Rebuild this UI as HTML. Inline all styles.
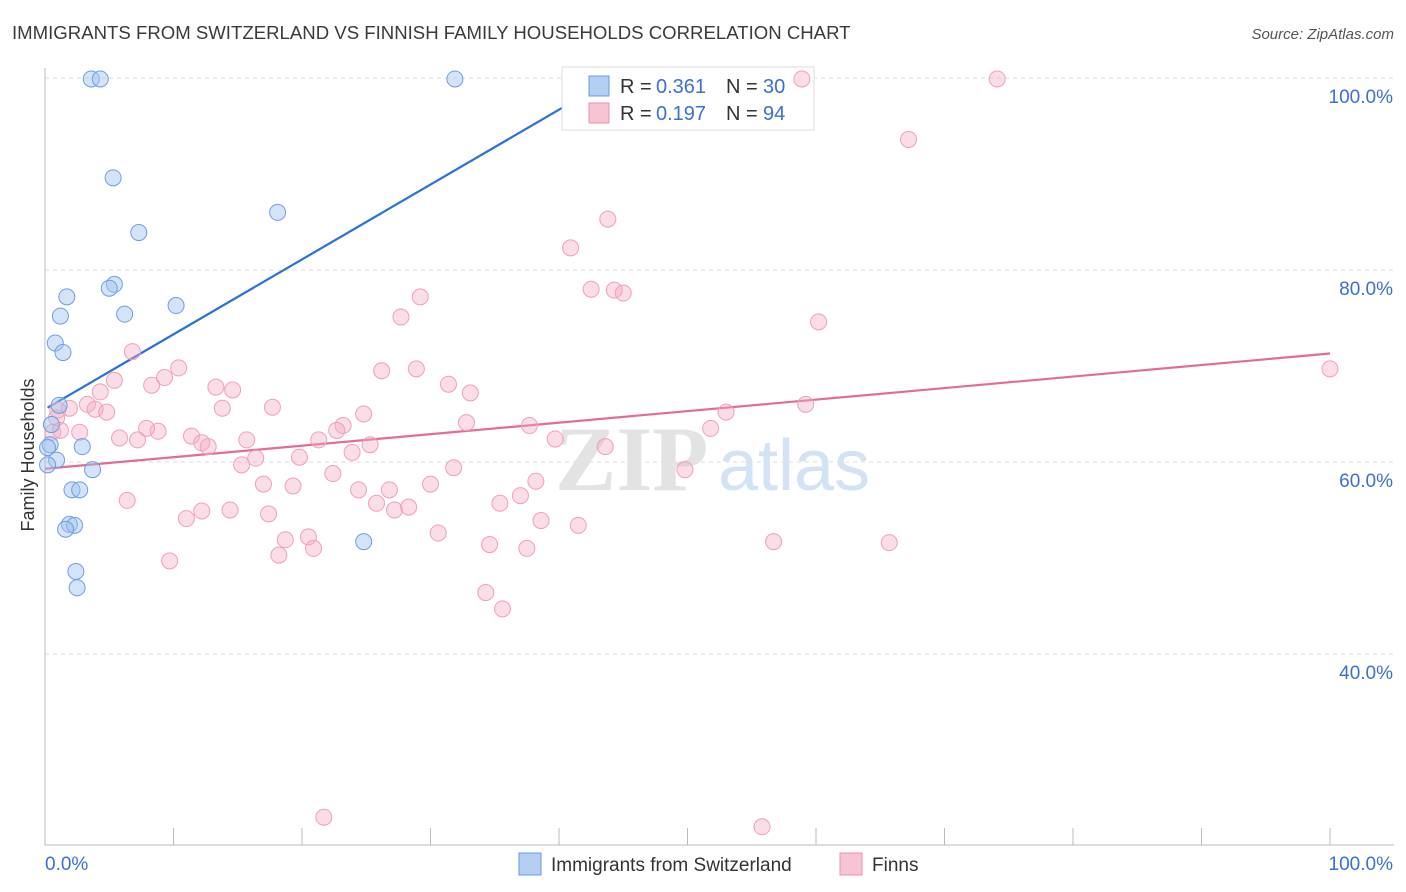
<!DOCTYPE html>
<html><head><meta charset="utf-8"><style>
body{margin:0;background:#fff;font-family:"Liberation Sans",sans-serif;}
svg{display:block}
</style></head><body>
<svg id="chart" width="1406" height="892" viewBox="0 0 1406 892">
<text x="12" y="39" font-size="18.6" fill="#3a3a3a">IMMIGRANTS FROM SWITZERLAND VS FINNISH FAMILY HOUSEHOLDS CORRELATION CHART</text>
<text x="1394" y="39" font-size="15" fill="#555" font-style="italic" text-anchor="end">Source: ZipAtlas.com</text>
<g id="grid"></g>
<g>
<text x="555" y="490" font-size="92" fill="#e3e3e3" font-family="Liberation Serif,serif" font-weight="bold">ZIP</text>
<text x="718" y="490" font-size="72" fill="#d3e2f4">atlas</text>
</g>
<g id="axes"></g>
<g id="lines"></g>
<g>
<rect x="562" y="67" width="252" height="63" fill="#fff" stroke="#ddd"/>
<rect x="589" y="76" width="20" height="20" fill="#b3cff2" stroke="#6a9ae0"/>
<rect x="589" y="103" width="20" height="20" fill="#f7c4d4" stroke="#e890ae"/>
<g font-size="20" fill="#333">
<text x="620" y="93">R =</text><text x="656" y="93" fill="#3b6fd4">0.361</text><text x="726" y="93">N =</text><text x="763" y="93" fill="#3b6fd4">30</text></g>
<g font-size="20" fill="#333">
<text x="620" y="120">R =</text><text x="656" y="120" fill="#3b6fd4">0.197</text><text x="726" y="120">N =</text><text x="763" y="120" fill="#3b6fd4">94</text></g>
</g>
<g id="pinkPts"></g>
<g id="bluePts"></g>
<text x="34" y="455" font-size="18" fill="#333" transform="rotate(-90 34 455)" text-anchor="middle">Family Households</text>
<g>
<rect x="519" y="853" width="22" height="22" fill="#b3cff2" stroke="#6a9ae0"/>
<text x="551" y="871" font-size="19" fill="#333">Immigrants from Switzerland</text>
<rect x="840" y="853" width="22" height="22" fill="#f7c4d4" stroke="#e890ae"/>
<text x="872" y="871" font-size="19" fill="#333">Finns</text>
</g>
</svg>
<script>
const blueX=[3.6,4.3,31.9,5.3,18.1,7.3,5.4,5.0,1.7,10.2,1.2,6.2,0.8,1.4,1.1,0.5,0.4,0.2,2.9,0.9,0.2,3.7,2.1,2.7,1.9,2.3,1.6,2.4,2.5,24.8];
const blueY=[99.9,99.9,99.9,89.6,86.0,83.9,78.5,78.1,77.2,76.3,75.2,75.4,72.4,71.4,65.9,63.9,61.8,61.5,61.6,60.2,59.7,59.2,57.1,57.1,53.5,53.4,53.0,48.6,46.9,51.7];
const pinkX=[58.9,74.1,67.2,43.8,40.9,42.5,44.3,45.0,29.2,60.2,27.7,6.8,10.4,28.9,26.2,9.3,31.4,8.3,5.4,13.3,14.6,33.1,4.3,3.3,1.9,3.9,4.8,0.9,13.8,17.7,24.8,53.0,59.2,32.8,37.7,51.8,23.2,22.7,8.8,7.9,5.8,7.2,11.4,12.2,12.7,15.7,21.3,25.3,39.7,43.6,0.6,1.2,2.7,23.9,16.4,19.8,15.3,31.8,22.4,49.8,17.0,19.3,38.2,30.0,24.4,26.8,37.0,35.4,25.8,6.4,14.4,27.2,28.3,12.2,11.0,17.4,38.6,41.5,30.6,20.5,18.7,20.9,34.6,37.5,56.7,65.7,18.2,9.7,34.3,35.6,21.7,55.8,100,1.0];
const pinkY=[99.9,99.9,93.6,85.3,82.3,78.0,77.9,77.6,77.2,74.6,75.1,71.5,69.8,69.7,69.5,68.8,68.1,68.0,68.5,67.8,67.5,67.2,67.3,66.0,65.6,65.5,65.2,64.6,65.6,65.7,65.0,65.2,66.0,64.1,63.8,63.5,63.8,63.3,63.2,63.5,62.5,62.3,62.7,62.0,61.6,62.3,62.3,61.8,62.4,61.6,63.1,63.3,63.1,61.0,60.4,60.5,59.7,59.4,58.8,59.2,57.7,57.5,58.0,57.7,57.1,57.1,56.5,55.7,55.7,56.0,55.0,55.0,55.3,54.9,54.1,54.6,53.9,53.4,52.6,52.2,51.9,51.0,51.4,51.0,51.7,51.6,50.3,49.7,46.4,44.7,23.0,22.0,69.7,65.4];
const blueTrend=[65.5,0.78];
const pinkTrend=[59.3,0.12];
const yTicks=[40,60,80,100];
const xTicks=[0,10,20,30,40,50,60,70,80,90,100];
const NS='http://www.w3.org/2000/svg';
const xs=v=>45+v*12.85;
const ys=v=>654-(v-40)*9.6;
function mk(tag,attrs,parent){const e=document.createElementNS(NS,tag);for(const k in attrs)e.setAttribute(k,attrs[k]);parent.appendChild(e);return e;}
const grid=document.getElementById('grid'),axes=document.getElementById('axes');
yTicks.forEach(t=>{
 const l=mk('line',{x1:45,x2:1394,y1:ys(t),y2:ys(t),stroke:'#ddd','stroke-dasharray':'4,4'},grid);
 
 
 const tx=mk('text',{x:1393,y:ys(t)+25,'font-size':19,fill:'#3b6fd4','text-anchor':'end'},axes);
 tx.textContent=t.toFixed(1)+'%';
 
 
});
mk('line',{x1:45,x2:45,y1:68,y2:845,stroke:'#bbb'},axes);
mk('line',{x1:45,x2:1394,y1:845,y2:845,stroke:'#bbb'},axes);
xTicks.forEach(t=>{
 const l=mk('line',{x1:xs(t),x2:xs(t),y1:828,y2:845,stroke:'#bbb'},axes);
 
 
});
const xl0=mk('text',{x:45,y:870,'font-size':19,fill:'#3b6fd4'},axes);xl0.textContent='0.0%';


const xl1=mk('text',{x:1393,y:870,'font-size':19,fill:'#3b6fd4','text-anchor':'end'},axes);xl1.textContent='100.0%';


const pg=document.getElementById('pinkPts');
pinkX.forEach((x,i)=>{
 const c=mk('circle',{cx:xs(x),cy:ys(pinkY[i]),r:8,fill:'rgba(244,170,195,0.4)',stroke:'#eda0ba','stroke-width':1},pg);
 
 
});
const bg=document.getElementById('bluePts');
blueX.forEach((x,i)=>{
 const c=mk('circle',{cx:xs(x),cy:ys(blueY[i]),r:8,fill:'rgba(160,195,240,0.45)',stroke:'#6f9de0','stroke-width':1},bg);
 
 
});
const lg=document.getElementById('lines');
const bl=mk('line',{x1:xs(0.2),y1:ys(blueTrend[0]+blueTrend[1]*0.2),x2:xs(40.4),y2:ys(blueTrend[0]+blueTrend[1]*40.4),stroke:'#2a72d8','stroke-width':2.2},lg);


const pl=mk('line',{x1:xs(0),y1:ys(pinkTrend[0]),x2:xs(100),y2:ys(pinkTrend[0]+pinkTrend[1]*100),stroke:'#e56a96','stroke-width':2.2},lg);


</script>
</body></html>
